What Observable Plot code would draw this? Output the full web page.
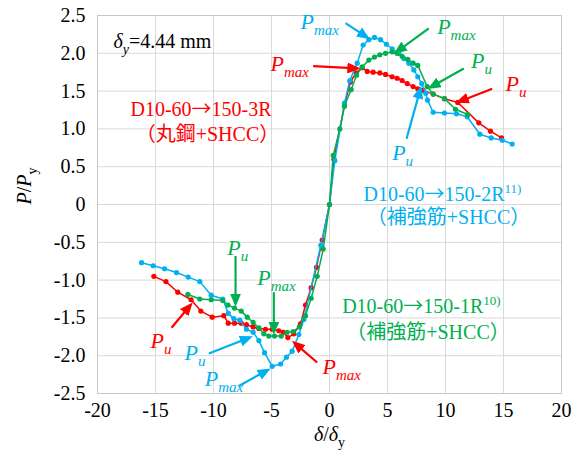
<!DOCTYPE html>
<html><head><meta charset="utf-8">
<script src="https://cdn.jsdelivr.net/npm/d3@7"></script>
<script src="https://cdn.jsdelivr.net/npm/@observablehq/plot@0.6"></script>
<style>body{margin:0;background:#fff}svg{display:block}</style>
</head><body><div id="chart"></div>
<script>
const RED = "#ff0000", BLUE = "#00b0f0", GREEN = "#00b050";

const xTicks = [-20, -15, -10, -5, 0, 5, 10, 15, 20];
const yTicks = [-2.5, -2, -1.5, -1, -0.5, 0, 0.5, 1, 1.5, 2, 2.5];

// D10-60→150-3R (丸鋼+SHCC)
const redCurve = [
  [-15.14,-0.95],[-14.1,-1.02],[-13.08,-1.16],[-11.93,-1.26],[-11.09,-1.41],[-10.11,-1.49],
  [-9.11,-1.47],[-8.73,-1.57],[-8.19,-1.57],[-7.61,-1.57],[-7.16,-1.59],[-6.58,-1.62],
  [-6.09,-1.64],[-5.52,-1.65],[-4.94,-1.65],[-4.37,-1.67],[-3.99,-1.69],[-3.59,-1.76],
  [-3.08,-1.71],[-2.5,-1.58],[-2.07,-1.33],[-1.58,-1.10],[-1.12,-0.83],[-0.63,-0.47],
  [0,0],[0.38,0.6],[1.3,1.32],[1.8,1.62],[2.3,1.74],[2.82,1.81],[3.25,1.76],[3.76,1.75],
  [4.34,1.74],[4.83,1.72],[5.4,1.69],[5.83,1.67],[6.26,1.64],[6.7,1.6],[7.21,1.56],
  [7.61,1.53],[8.07,1.51],[8.94,1.46],[9.91,1.4],[11.06,1.35],[12.87,1.08],[13.88,0.97],[14.83,0.88]
];
// D10-60→150-2R (補強筋+SHCC)
const blueCurve = [
  [-16.2,-0.77],[-15.2,-0.81],[-14.22,-0.85],[-13.19,-0.9],[-12.18,-0.96],[-11.18,-1.02],
  [-10.2,-1.2],[-9.2,-1.25],[-8.73,-1.44],[-8.25,-1.51],[-7.73,-1.53],[-7.16,-1.65],
  [-6.58,-1.69],[-6.09,-1.8],[-5.6,-1.96],[-4.94,-2.14],[-4.22,-2.11],[-3.71,-2.02],
  [-3.22,-1.94],[-2.64,-1.72],[-2.21,-1.52],[-0.75,-0.54],
  [0,0],[0.46,0.58],[1.29,1.34],[1.75,1.64],[2.39,1.87],[2.9,2.11],[3.39,2.18],[3.88,2.21],
  [4.4,2.18],[4.91,2.12],[5.4,2.06],[5.98,2.0],[6.41,1.93],[6.84,1.87],[7.27,1.78],
  [7.61,1.69],[7.95,1.6],[8.3,1.47],[8.45,1.38],[8.94,1.22],[9.91,1.21],[10.95,1.2],
  [11.87,1.16],[12.96,0.93],[13.94,0.88],[14.9,0.85],[15.75,0.8]
];
// D10-60→150-1R (補強筋+SHCC)
const greenCurve = [
  [-12.21,-1.19],[-11.18,-1.25],[-10.2,-1.26],[-9.2,-1.27],[-8.75,-1.33],[-8.19,-1.37],
  [-7.61,-1.41],[-7.09,-1.49],[-6.58,-1.56],[-6.09,-1.63],[-5.66,-1.71],[-5.23,-1.74],
  [-4.74,-1.74],[-4.16,-1.74],[-3.65,-1.69],[-3.13,-1.68],[-2.6,-1.62],[-2.07,-1.47],
  [-1.58,-1.24],[-1.06,-0.95],[-0.54,-0.59],
  [0,0],[0.32,0.65],[0.89,1.0],[1.29,1.3],[1.87,1.52],[2.33,1.71],[2.82,1.82],[3.39,1.91],
  [3.88,1.95],[4.34,1.98],[4.83,2.0],[5.4,2.02],[5.83,2.0],[6.26,1.96],[6.75,1.92],
  [7.21,1.87],[7.61,1.84],[8.42,1.56],[8.94,1.46],[9.91,1.4],[10.86,1.26],[11.9,1.19]
];

const series = [
  {pts: redCurve, c: RED},
  {pts: blueCurve, c: BLUE},
  {pts: greenCurve, c: GREEN}
];

// annotation labels (P_max / P_u) at data coordinates
const pLabels = [
  {x:-2.5, y:2.41, t:"Pmax", c:BLUE},
  {x:-5.09, y:1.86, t:"Pmax", c:RED},
  {x:9.28, y:2.35, t:"Pmax", c:GREEN},
  {x:12.2, y:1.90, t:"Pu", c:GREEN},
  {x:15.17, y:1.60, t:"Pu", c:RED},
  {x:5.4, y:0.68, t:"Pu", c:BLUE},
  {x:-8.82, y:-0.58, t:"Pu", c:GREEN},
  {x:-6.23, y:-0.97, t:"Pmax", c:GREEN},
  {x:-15.43, y:-1.80, t:"Pu", c:RED},
  {x:-12.5, y:-1.97, t:"Pu", c:BLUE},
  {x:-10.75, y:-2.31, t:"Pmax", c:BLUE},
  {x:-0.6, y:-2.15, t:"Pmax", c:RED}
];
const arrows = [
  {x1:1.38, y1:2.40, x2:3.25, y2:2.21, c:BLUE},
  {x1:-1.41, y1:1.83, x2:2.39, y2:1.80, c:RED},
  {x1:8.56, y1:2.33, x2:5.78, y2:2.02, c:GREEN},
  {x1:11.58, y1:1.80, x2:8.71, y2:1.55, c:GREEN},
  {x1:14.03, y1:1.53, x2:11.15, y2:1.36, c:RED},
  {x1:6.64, y1:0.87, x2:7.84, y2:1.53, c:BLUE},
  {x1:-8.1, y1:-0.68, x2:-8.1, y2:-1.31, c:GREEN},
  {x1:-4.8, y1:-1.16, x2:-4.8, y2:-1.68, c:GREEN},
  {x1:-13.62, y1:-1.63, x2:-11.98, y2:-1.33, c:RED},
  {x1:-10.4, y1:-1.97, x2:-6.87, y2:-1.76, c:BLUE},
  {x1:-7.82, y1:-2.40, x2:-5.32, y2:-2.19, c:BLUE},
  {x1:-1.06, y1:-2.09, x2:-3.02, y2:-1.83, c:RED}
];
// specimen labels
const nameLabels = [
  {x:-17.16, y:1.26, t:"D10-60→150-3R", c:RED, a:"start"},
  {x:-10.52, y:0.93, t:"（丸鋼+SHCC）", c:RED, a:"middle"},
  {x:2.93, y:0.13, t:"D10-60→150-2R11)", c:BLUE, a:"start"},
  {x:10.26, y:-0.17, t:"（補強筋+SHCC）", c:BLUE, a:"middle"},
  {x:1.09, y:-1.35, t:"D10-60→150-1R10)", c:GREEN, a:"start"},
  {x:8.49, y:-1.70, t:"（補強筋+SHCC）", c:GREEN, a:"middle"},
  {x:-18.62, y:2.16, t:"δy=4.44 mm", c:"#000", a:"start"}
];
const xLabel = "δ/δy";
const yLabel = "P/Py";

const CJK = "'Noto Sans CJK JP',sans-serif";
// rich-text pieces: i = italic, s = font size, b = baseline shift (px), f = font family
const richText = {
  "Pmax": [{t:"P", i:1}, {t:"max", i:1, s:15, b:6}],
  "Pu": [{t:"P", i:1}, {t:"u", i:1, s:15, b:6}],
  "δy=4.44 mm": [{t:"δ", i:1}, {t:"y", i:1, s:14, b:6}, {t:"=4.44 mm"}],
  "D10-60→150-3R": [{t:"D10-60"}, {t:"→", f:CJK}, {t:"150-3R"}],
  "D10-60→150-2R11)": [{t:"D10-60"}, {t:"→", f:CJK}, {t:"150-2R"}, {t:"11)", s:13, b:-8}],
  "D10-60→150-1R10)": [{t:"D10-60"}, {t:"→", f:CJK}, {t:"150-1R"}, {t:"10)", s:13, b:-8}],
  "δ/δy": [{t:"δ", i:1}, {t:"/"}, {t:"δ", i:1}, {t:"y", s:14, b:6}],
  "P/Py": [{t:"P", i:1}, {t:"/"}, {t:"P", i:1}, {t:"y", s:14, b:6}]
};

const FONT = "'Liberation Serif','Times New Roman','Noto Sans CJK JP',serif";

function filledArrow(color, context) {
  const doc = (context && context.document) || document;
  const ns = "http://www.w3.org/2000/svg";
  const m = doc.createElementNS(ns, "marker");
  m.setAttribute("viewBox", "-12 -5 12 10");
  m.setAttribute("refX", "-3");
  m.setAttribute("refY", "0");
  m.setAttribute("markerWidth", "6");
  m.setAttribute("markerHeight", "5");
  m.setAttribute("orient", "auto");
  m.setAttribute("fill", color);
  m.setAttribute("stroke", "none");
  const p = doc.createElementNS(ns, "path");
  p.setAttribute("d", "M-12,-5L0,0L-12,5Z");
  m.appendChild(p);
  return m;
}

function build(marker) {
  const marks = [
    Plot.gridX(xTicks, {stroke: "#d9d9d9", strokeOpacity: 1, strokeWidth: 1}),
    Plot.gridY(yTicks, {stroke: "#d9d9d9", strokeOpacity: 1, strokeWidth: 1}),
    Plot.frame({stroke: "#c8c8c8"})
  ];
  for (const s of series) {
    marks.push(Plot.line(s.pts, {x: d => d[0], y: d => d[1], stroke: s.c, strokeWidth: 1.5}));
    marks.push(Plot.dot(s.pts, {x: d => d[0], y: d => d[1], fill: s.c, r: 2.6}));
  }
  marks.push(
    Plot.link(arrows, {x1: "x1", y1: "y1", x2: "x2", y2: "y2", stroke: "c", strokeWidth: 2.2, markerEnd: marker}),
    Plot.text(pLabels, {x: "x", y: "y", text: "t", fill: "c", fontSize: 22, textAnchor: "start"}),
    Plot.text(nameLabels, {x: "x", y: "y", text: "t", fill: "c", fontSize: 20, textAnchor: "start", filter: d => d.a === "start"}),
    Plot.text(nameLabels, {x: "x", y: "y", text: "t", fill: "c", fontSize: 20, textAnchor: "middle", filter: d => d.a === "middle"}),
    Plot.text([xLabel], {text: d => d, frameAnchor: "bottom", dy: 47, fontSize: 20, fill: "#000"}),
    Plot.text([yLabel], {text: d => d, frameAnchor: "left", dx: -73, rotate: -90, fontSize: 20, fill: "#000"})
  );
  return Plot.plot({
    width: 584, height: 463,
    marginLeft: 97, marginRight: 23, marginTop: 15, marginBottom: 70,
    style: {fontFamily: FONT, fontSize: "20px", color: "#000", background: "#fff"},
    color: {type: "identity"},
    x: {domain: [-20, 20], ticks: xTicks, tickFormat: d => String(d), tickSize: 0, tickPadding: 9, label: null},
    y: {domain: [-2.5, 2.5], ticks: yTicks, tickFormat: d => d === 0 ? "0" : d.toFixed(1), tickSize: 0, tickPadding: 12, label: null},
    marks
  });
}

let chart;
try { chart = build(filledArrow); } catch (e) { chart = build("arrow"); }
document.getElementById("chart").appendChild(chart);

// turn plain strings into rich text with italics and sub/superscripts
d3.select(chart).selectAll("text").each(function () {
  const parts = richText[this.textContent];
  if (!parts) return;
  const el = d3.select(this);
  el.text(null);
  let prev = 0;
  for (const p of parts) {
    const b = p.b || 0;
    const ts = el.append("tspan").text(p.t);
    if (p.i) ts.attr("font-style", "italic");
    if (p.s) ts.attr("font-size", p.s);
    if (p.f) ts.attr("font-family", p.f);
    if (b !== prev) ts.attr("dy", b - prev);
    prev = b;
  }
});
</script></body></html>
